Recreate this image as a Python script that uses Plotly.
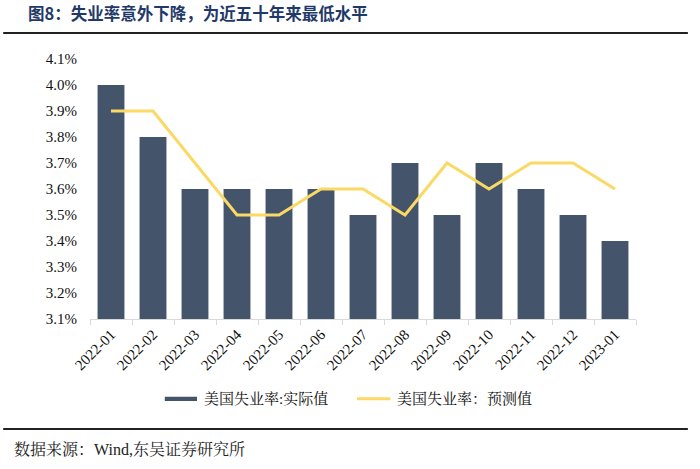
import plotly.graph_objects as go

months = ["2022-01", "2022-02", "2022-03", "2022-04", "2022-05", "2022-06", "2022-07",
          "2022-08", "2022-09", "2022-10", "2022-11", "2022-12", "2023-01"]
actual = [4.0, 3.8, 3.6, 3.6, 3.6, 3.6, 3.5, 3.7, 3.5, 3.7, 3.6, 3.5, 3.4]
forecast = [3.9, 3.9, 3.7, 3.5, 3.5, 3.6, 3.6, 3.5, 3.7, 3.6, 3.7, 3.7, 3.6]
yticks = [3.1, 3.2, 3.3, 3.4, 3.5, 3.6, 3.7, 3.8, 3.9, 4.0, 4.1]
name_actual = "美国失业率:实际值"
name_forecast = "美国失业率：预测值"

BAR = "#44546A"
LINE = "#FAD964"
SERIF = "Liberation Serif, Times New Roman, Noto Serif CJK SC, Noto Sans CJK SC, serif"

fig = go.Figure()
fig.add_trace(go.Bar(x=months, y=actual, marker=dict(color=BAR, line=dict(width=0)),
                     name=name_actual, showlegend=False))
fig.add_trace(go.Scatter(x=months, y=forecast, mode="lines", line=dict(color=LINE, width=3),
                         name=name_forecast, showlegend=False))

fig.update_layout(
    width=700, height=469,
    margin=dict(l=90, r=64, t=59, b=150),
    plot_bgcolor="white", paper_bgcolor="white",
    bargap=0.36,
    font=dict(family=SERIF, size=15, color="#111111"),
)
fig.update_yaxes(range=[3.1, 4.1], tickvals=yticks,
                 ticktext=[f"{v:.1f}%" for v in yticks],
                 showgrid=False, zeroline=False, showline=False,
                 ticklabelstandoff=12, tickfont=dict(size=15))
fig.update_xaxes(type="category", showline=True, linecolor="#D9D9D9", linewidth=1,
                 ticks="outside", tickcolor="#D9D9D9", ticklen=5,
                 tickson="boundaries", tickangle=-45, tickfont=dict(size=15),
                 showgrid=False, automargin=False)

# title, rules, source
fig.add_annotation(xref="paper", yref="paper", x=-0.118, y=1.0, xanchor="left", yanchor="bottom",
                   yshift=32, showarrow=False,
                   text="<b>图8：失业率意外下降，为近五十年来最低水平</b>",
                   font=dict(family="Noto Sans CJK SC", size=16.5, color="#1F3A68"))
fig.add_shape(type="line", xref="paper", yref="paper", x0=-0.159, x1=1.095,
              y0=1.1, y1=1.1, line=dict(color="#222222", width=2))
fig.add_shape(type="line", xref="paper", yref="paper", x0=-0.159, x1=1.095,
              y0=-0.423, y1=-0.423, line=dict(color="#222222", width=2))
fig.add_annotation(xref="paper", yref="paper", x=-0.143, y=-0.503, xanchor="left", yanchor="middle",
                   showarrow=False, text="数据来源：Wind,东吴证券研究所",
                   font=dict(family=SERIF, size=16, color="#222222"))

# legend
fig.add_shape(type="rect", xref="paper", yref="paper", x0=0.137, x1=0.196,
              y0=-0.299, y1=-0.315, fillcolor=BAR, line=dict(width=0))
fig.add_annotation(xref="paper", yref="paper", x=0.205, y=-0.307, xanchor="left", yanchor="middle",
                   showarrow=False, text=name_actual,
                   font=dict(family=SERIF, size=15, color="#111111"))
fig.add_shape(type="line", xref="paper", yref="paper", x0=0.489, x1=0.55,
              y0=-0.307, y1=-0.307, line=dict(color=LINE, width=3))
fig.add_annotation(xref="paper", yref="paper", x=0.558, y=-0.307, xanchor="left", yanchor="middle",
                   showarrow=False, text=name_forecast,
                   font=dict(family=SERIF, size=15, color="#111111"))

fig.write_html("out.html", config={"displayModeBar": False},
               post_script="document.body.style.margin='0';")
